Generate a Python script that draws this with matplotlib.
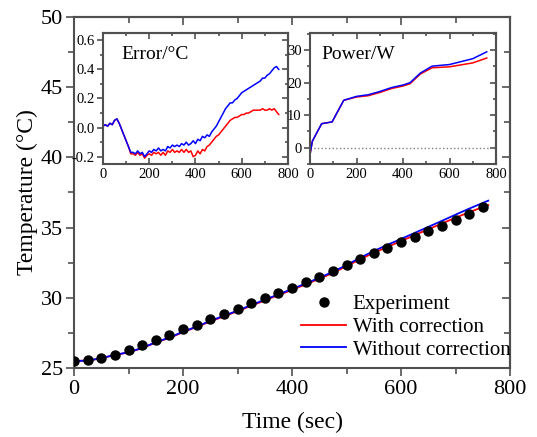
import numpy as np
import matplotlib
matplotlib.use("Agg")
import matplotlib.pyplot as plt
from matplotlib.ticker import MultipleLocator

plt.rcParams['font.family'] = ['Liberation Serif', 'DejaVu Serif']
plt.rcParams['mathtext.fontset'] = 'stix'

# experiment (every 25 s)
t_exp = np.arange(0, 751, 25)
T_exp = [25.5, 25.55, 25.7, 25.95, 26.25, 26.62, 27.0, 27.37, 27.75, 28.08,
         28.49, 28.87, 29.2, 29.6, 29.96, 30.32, 30.72, 31.1, 31.5, 31.9,
         32.33, 32.74, 33.17, 33.55, 33.95, 34.35, 34.76, 35.14, 35.56, 36.0,
         36.45]

# model curves
t_mod = [0, 25, 50, 75, 100, 125, 150, 175, 200, 225, 250, 275, 300, 325, 350,
         375, 400, 425, 450, 475, 500, 525, 550, 575, 600, 625, 650, 675, 700,
         725, 760]
T_without = [25.5, 25.52, 25.7, 25.93, 26.12, 26.43, 26.83, 27.17, 27.58, 27.95,
             28.35, 28.72, 29.08, 29.48, 29.86, 30.24, 30.62, 31.02, 31.42, 31.85,
             32.33, 32.85, 33.33, 33.77, 34.19, 34.62, 35.05, 35.48, 35.92, 36.35,
             36.92]
T_with = [25.5, 25.52, 25.69, 25.92, 26.11, 26.41, 26.81, 27.14, 27.55, 27.92,
          28.31, 28.68, 29.04, 29.43, 29.81, 30.19, 30.56, 30.95, 31.35, 31.77,
          32.25, 32.74, 33.2, 33.62, 34.04, 34.46, 34.88, 35.29, 35.7, 36.1,
          36.6]

# error inset (every 10 s)
t_err = np.arange(0, 761, 10)
err_without = [0.01, 0.02, 0.01, 0.03, 0.02, 0.05, 0.06, 0.03, -0.01, -0.05,
               -0.09, -0.13, -0.17, -0.17, -0.18, -0.16, -0.18, -0.17, -0.20, -0.18,
               -0.16, -0.17, -0.15, -0.16, -0.14, -0.16, -0.15, -0.16, -0.13, -0.14,
               -0.12, -0.13, -0.12, -0.13, -0.11, -0.12, -0.10, -0.12, -0.11, -0.09,
               -0.11, -0.08, -0.09, -0.06, -0.07, -0.05, -0.06, -0.03, -0.01, 0.01,
               0.04, 0.07, 0.10, 0.13, 0.15, 0.17, 0.17, 0.19, 0.20, 0.22,
               0.24, 0.25, 0.26, 0.27, 0.28, 0.29, 0.30, 0.31, 0.32, 0.34,
               0.34, 0.36, 0.37, 0.39, 0.41, 0.42, 0.40]
err_with = [0.01, 0.02, 0.01, 0.03, 0.02, 0.05, 0.06, 0.03, -0.01, -0.05,
            -0.09, -0.13, -0.18, -0.18, -0.19, -0.17, -0.19, -0.18, -0.21, -0.19,
            -0.18, -0.19, -0.17, -0.18, -0.17, -0.19, -0.17, -0.19, -0.16, -0.17,
            -0.15, -0.17, -0.16, -0.17, -0.15, -0.17, -0.15, -0.17, -0.16, -0.20,
            -0.19, -0.16, -0.18, -0.15, -0.16, -0.13, -0.12, -0.10, -0.08, -0.06,
            -0.05, -0.03, -0.01, 0.01, 0.03, 0.05, 0.06, 0.07, 0.07, 0.08,
            0.09, 0.09, 0.10, 0.10, 0.11, 0.12, 0.12, 0.12, 0.12, 0.13,
            0.12, 0.12, 0.13, 0.12, 0.13, 0.11, 0.09]

# power inset
t_pow = [0, 10, 50, 95, 145, 200, 250, 300, 350, 400, 430, 475, 525, 600, 700, 760]
pow_without = [-2.1, 2.0, 7.4, 7.95, 14.6, 15.8, 16.3, 17.3, 18.5, 19.3, 20.0,
               23.0, 25.1, 25.6, 27.4, 29.5]
pow_with = [-2.1, 2.0, 7.4, 7.95, 14.6, 15.6, 16.0, 17.0, 18.2, 19.0, 19.7,
            22.7, 24.6, 24.9, 26.1, 27.6]

spine_col = '#505050'


def style_axes(ax, size, xstep, ystep, bottom_dir='out', maj=5, mnr=3):
    # Origin look: bottom/left ticks outside, top/right mirrored inside
    for s in ax.spines.values():
        s.set_color(spine_col)
        s.set_linewidth(1.5)
    ax.xaxis.set_major_locator(MultipleLocator(xstep))
    ax.xaxis.set_minor_locator(MultipleLocator(xstep / 2))
    ax.yaxis.set_major_locator(MultipleLocator(ystep))
    ax.yaxis.set_minor_locator(MultipleLocator(ystep / 2))
    ax.tick_params(axis='y', which='both', direction='out', color=spine_col,
                   width=1.2, labelsize=size, pad=2)
    ax.tick_params(axis='x', which='both', direction=bottom_dir, color=spine_col,
                   width=1.2, labelsize=size, pad=3)
    ax.tick_params(which='major', length=maj)
    ax.tick_params(which='minor', length=mnr)
    top = ax.secondary_xaxis('top')
    right = ax.secondary_yaxis('right')
    top.xaxis.set_major_locator(MultipleLocator(xstep))
    top.xaxis.set_minor_locator(MultipleLocator(xstep / 2))
    right.yaxis.set_major_locator(MultipleLocator(ystep))
    right.yaxis.set_minor_locator(MultipleLocator(ystep / 2))
    for sec in (top, right):
        sec.tick_params(which='both', direction='in', color=spine_col, width=1.2,
                        labeltop=False, labelright=False)
        sec.tick_params(which='major', length=maj)
        sec.tick_params(which='minor', length=mnr)
        for s in sec.spines.values():
            s.set_color(spine_col)
            s.set_linewidth(1.5)


fig = plt.figure(figsize=(5.37, 4.37), dpi=100)
ax = fig.add_axes([0.1378, 0.158, 0.812, 0.803])
ax.plot(t_exp, T_exp, 'o', color='black', ms=6.5, label='Experiment', zorder=3)
ax.plot(t_mod, T_with, color='red', lw=1.3, label='With correction')
ax.plot(t_mod, T_without, color='blue', lw=1.3, label='Without correction')
ax.set_xlim(0, 800)
ax.set_ylim(25, 50)
style_axes(ax, 16, 200, 5, maj=6, mnr=4)
ax.set_xlabel('Time (sec)', fontsize=17, labelpad=9)
ax.set_ylabel('Temperature (°C)', fontsize=17, labelpad=2)
ax.legend(loc='lower right', frameon=False, fontsize=15, handlelength=2.2,
          handletextpad=0.3, labelspacing=0.15, borderaxespad=0.0,
          bbox_to_anchor=(1.02, 0.0))

# error inset
ax1 = fig.add_axes([0.1918, 0.6247, 0.3445, 0.2998])
ax1.plot(t_err, err_with, color='red', lw=1.1)
ax1.plot(t_err, err_without, color='blue', lw=1.1)
ax1.set_xlim(0, 800)
ax1.set_ylim(-0.25, 0.65)
style_axes(ax1, 10.5, 200, 0.2, bottom_dir='in', maj=4, mnr=2.5)
ax1.yaxis.set_major_formatter(lambda v, p: f'{v:.1f}')
ax1.text(0.1, 0.8, 'Error/°C', transform=ax1.transAxes, fontsize=14)

# power inset
ax2 = fig.add_axes([0.5773, 0.6247, 0.3464, 0.2998])
ax2.axhline(0, color='gray', ls=':', lw=1)
ax2.plot(t_pow, pow_with, color='red', lw=1.1)
ax2.plot(t_pow, pow_without, color='blue', lw=1.1)
ax2.set_xlim(0, 800)
ax2.set_ylim(-5, 35.3)
style_axes(ax2, 10.5, 200, 10, bottom_dir='in', maj=4, mnr=2.5)
ax2.text(0.06, 0.8, 'Power/W', transform=ax2.transAxes, fontsize=14)

fig.savefig('out.png', dpi=100)
